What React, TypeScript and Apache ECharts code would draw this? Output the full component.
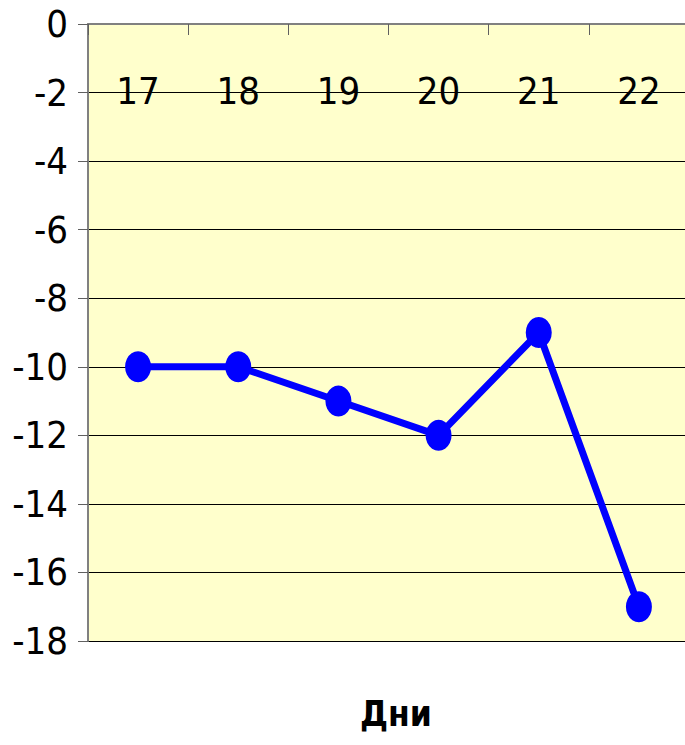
import React, { useEffect, useRef } from "react";
import * as echarts from "echarts";

const days = ["17", "18", "19", "20", "21", "22"];
const temps = [-10, -10, -11, -12, -9, -17];
const axisTitle = "Дни";

const FONT = "'DejaVu Sans Condensed', 'Liberation Sans Narrow', 'DejaVu Sans', sans-serif";

export default function App() {
  const ref = useRef<HTMLDivElement>(null);
  useEffect(() => {
    if (!ref.current) return;
    const chart = echarts.init(ref.current, null, { renderer: "svg" });
    chart.setOption({
      animation: false,
      backgroundColor: "#ffffff",
      grid: {
        left: 88,
        top: 24,
        width: 601,
        height: 617,
        show: true,
        backgroundColor: "#FFFFCC",
        borderWidth: 0,
      },
      xAxis: {
        type: "category",
        data: days,
        position: "top",
        boundaryGap: true,
        axisLine: { show: true, lineStyle: { color: "#808080", width: 2 } },
        axisTick: { show: true, inside: true, length: 11, alignWithLabel: false, lineStyle: { color: "#606060", width: 1 } },
        axisLabel: { inside: true, margin: 48, color: "#000", fontSize: 38, fontFamily: FONT, verticalAlign: "top" },
        splitLine: { show: false },
      },
      yAxis: {
        type: "value",
        min: -18,
        max: 0,
        interval: 2,
        axisLine: { show: true, lineStyle: { color: "#808080", width: 2 } },
        axisTick: { show: true, length: 10, lineStyle: { color: "#606060", width: 1 } },
        axisLabel: { color: "#000", fontSize: 38, fontFamily: FONT, margin: 20 },
        splitLine: { show: true, lineStyle: { color: "#000", width: 1 } },
      },
      graphic: [
        {
          type: "text",
          left: 360,
          top: 696,
          style: { text: axisTitle, fontSize: 35, fontWeight: "bold", fontFamily: FONT, fill: "#000" },
        },
      ],
      series: [
        {
          type: "line",
          data: temps,
          symbol: "circle",
          symbolSize: [26, 31],
          itemStyle: { color: "#0000FF" },
          lineStyle: { color: "#0000FF", width: 7 },
        },
      ],
    });
    return () => chart.dispose();
  }, []);
  return (
    <div style={{ position: "fixed", left: 0, top: 0, width: 685, height: 745, overflow: "hidden" }}>
      <div ref={ref} style={{ width: 700, height: 745 }} />
    </div>
  );
}
